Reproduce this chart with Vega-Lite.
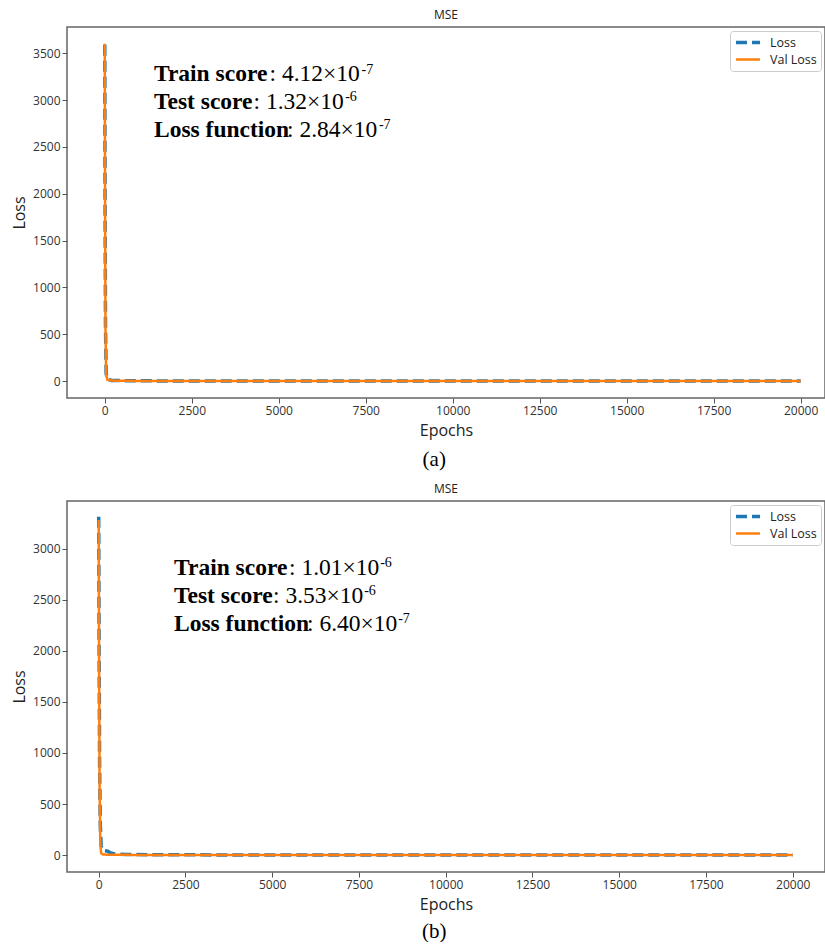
{
  "$schema": "https://vega.github.io/schema/vega-lite/v6.json",
  "padding": {"left": 10, "top": 8, "right": 0, "bottom": 0},
  "background": "white",
  "spacing": 12,
  "resolve": {"scale": {"color": "independent", "strokeDash": "independent", "strokeWidth": "independent"}, "legend": {"color": "independent", "strokeDash": "independent", "strokeWidth": "independent"}},
  "config": {
    "font": "Open Sans",
    "view": {"stroke": "#666", "strokeWidth": 1.5},
    "axis": {"grid": false, "domain": false, "labelFontSize": 12, "labelColor": "#333", "titleFontSize": 16, "titleFontWeight": "normal", "titleColor": "#222", "tickColor": "#555", "tickSize": 5, "labelPadding": 2},
    "legend": {"orient": "top-right", "offset": 4, "strokeColor": "#ccc", "fillColor": "white", "padding": 4, "cornerRadius": 3, "labelFontSize": 12.5, "labelColor": "#222", "symbolType": "stroke", "symbolSize": 576, "clipHeight": 15, "rowPadding": 2, "labelOffset": 8, "title": null},
    "title": {"fontSize": 12, "fontWeight": "normal", "color": "#222", "offset": 5, "anchor": "middle", "frame": "group"}
  },
  "datasets": {
    "lossA": [
      {"epoch": 0, "loss": 3590, "series": "Loss"},
      {"epoch": 8, "loss": 2000, "series": "Loss"},
      {"epoch": 20, "loss": 600, "series": "Loss"},
      {"epoch": 40, "loss": 80, "series": "Loss"},
      {"epoch": 80, "loss": 20, "series": "Loss"},
      {"epoch": 200, "loss": 8, "series": "Loss"},
      {"epoch": 600, "loss": 4, "series": "Loss"},
      {"epoch": 2000, "loss": 2, "series": "Loss"},
      {"epoch": 6000, "loss": 1, "series": "Loss"},
      {"epoch": 12000, "loss": 0.6, "series": "Loss"},
      {"epoch": 20000, "loss": 0.4, "series": "Loss"},
      {"epoch": 0, "loss": 3600, "series": "Val Loss"},
      {"epoch": 8, "loss": 1950, "series": "Val Loss"},
      {"epoch": 20, "loss": 560, "series": "Val Loss"},
      {"epoch": 40, "loss": 60, "series": "Val Loss"},
      {"epoch": 80, "loss": 14, "series": "Val Loss"},
      {"epoch": 200, "loss": 6, "series": "Val Loss"},
      {"epoch": 600, "loss": 3, "series": "Val Loss"},
      {"epoch": 2000, "loss": 1.5, "series": "Val Loss"},
      {"epoch": 6000, "loss": 0.8, "series": "Val Loss"},
      {"epoch": 12000, "loss": 0.5, "series": "Val Loss"},
      {"epoch": 20000, "loss": 0.3, "series": "Val Loss"}
    ],
    "lossB": [
      {"epoch": 0, "loss": 3310, "series": "Loss"},
      {"epoch": 10, "loss": 2200, "series": "Loss"},
      {"epoch": 25, "loss": 900, "series": "Loss"},
      {"epoch": 45, "loss": 300, "series": "Loss"},
      {"epoch": 70, "loss": 90, "series": "Loss"},
      {"epoch": 110, "loss": 50, "series": "Loss"},
      {"epoch": 180, "loss": 42, "series": "Loss"},
      {"epoch": 260, "loss": 38, "series": "Loss"},
      {"epoch": 320, "loss": 25, "series": "Loss"},
      {"epoch": 450, "loss": 12, "series": "Loss"},
      {"epoch": 800, "loss": 6, "series": "Loss"},
      {"epoch": 2000, "loss": 3, "series": "Loss"},
      {"epoch": 6000, "loss": 1.5, "series": "Loss"},
      {"epoch": 12000, "loss": 0.8, "series": "Loss"},
      {"epoch": 20000, "loss": 0.5, "series": "Loss"},
      {"epoch": 0, "loss": 3280, "series": "Val Loss"},
      {"epoch": 10, "loss": 2000, "series": "Val Loss"},
      {"epoch": 25, "loss": 700, "series": "Val Loss"},
      {"epoch": 45, "loss": 120, "series": "Val Loss"},
      {"epoch": 70, "loss": 20, "series": "Val Loss"},
      {"epoch": 110, "loss": 8, "series": "Val Loss"},
      {"epoch": 200, "loss": 5, "series": "Val Loss"},
      {"epoch": 500, "loss": 3, "series": "Val Loss"},
      {"epoch": 2000, "loss": 1.5, "series": "Val Loss"},
      {"epoch": 6000, "loss": 1, "series": "Val Loss"},
      {"epoch": 12000, "loss": 0.6, "series": "Val Loss"},
      {"epoch": 20000, "loss": 0.4, "series": "Val Loss"}
    ],
    "textA": [
      {"part": "label", "epoch": 1414, "loss": 3203, "txt": "Train score"},
      {"part": "value", "epoch": 4734, "loss": 3203, "txt": ": 4.12×10"},
      {"part": "exp", "epoch": 7380, "loss": 3278, "txt": "-7"},
      {"part": "label", "epoch": 1414, "loss": 2905, "txt": "Test score"},
      {"part": "value", "epoch": 4274, "loss": 2905, "txt": ": 1.32×10"},
      {"part": "exp", "epoch": 6910, "loss": 2990, "txt": "-6"},
      {"part": "label", "epoch": 1414, "loss": 2606, "txt": "Loss function"},
      {"part": "value", "epoch": 5237, "loss": 2606, "txt": ": 2.84×10"},
      {"part": "exp", "epoch": 7880, "loss": 2691, "txt": "-7"}
    ],
    "textB": [
      {"part": "label", "epoch": 2170, "loss": 2741, "txt": "Train score"},
      {"part": "value", "epoch": 5484, "loss": 2741, "txt": ": 1.01×10"},
      {"part": "exp", "epoch": 8110, "loss": 2819, "txt": "-6"},
      {"part": "label", "epoch": 2170, "loss": 2467, "txt": "Test score"},
      {"part": "value", "epoch": 5023, "loss": 2467, "txt": ": 3.53×10"},
      {"part": "exp", "epoch": 7650, "loss": 2545, "txt": "-6"},
      {"part": "label", "epoch": 2170, "loss": 2193, "txt": "Loss function"},
      {"part": "value", "epoch": 6003, "loss": 2193, "txt": ": 6.40×10"},
      {"part": "exp", "epoch": 8630, "loss": 2271, "txt": "-7"}
    ]
  },
  "vconcat": [
    {
      "title": {"text": "(a)", "orient": "bottom", "font": "Liberation Serif", "fontSize": 21, "color": "#000", "offset": 10, "frame": "bounds", "anchor": "middle", "dx": 16},
      "resolve": {"scale": {"color": "independent", "strokeDash": "independent", "strokeWidth": "independent"}, "legend": {"color": "independent", "strokeDash": "independent", "strokeWidth": "independent"}},
      "vconcat": [
        {
          "width": 758,
          "height": 371,
          "title": {"text": "MSE"},
          "layer": [
            {
              "data": {"name": "lossA"},
              "mark": {"type": "line", "clip": true},
              "encoding": {
                "x": {"field": "epoch", "type": "quantitative", "scale": {"domain": [-1086, 20700], "nice": false, "zero": false}, "axis": {"title": "Epochs", "values": [0, 2500, 5000, 7500, 10000, 12500, 15000, 17500, 20000], "format": "d", "titlePadding": 6}},
                "y": {"field": "loss", "type": "quantitative", "scale": {"domain": [-180, 3780], "nice": false, "zero": false}, "axis": {"title": "Loss", "values": [0, 500, 1000, 1500, 2000, 2500, 3000, 3500], "format": "d", "titlePadding": 5}},
                "color": {"field": "series", "type": "nominal", "scale": {"domain": ["Loss", "Val Loss"], "range": ["#1f77b4", "#ff7f0e"]}, "legend": {"title": null, "orient": "top-right"}},
                "strokeDash": {"field": "series", "type": "nominal", "scale": {"domain": ["Loss", "Val Loss"], "range": [[11, 5], [1, 0]]}, "legend": {"title": null, "orient": "top-right"}},
                "strokeWidth": {"field": "series", "type": "nominal", "scale": {"domain": ["Loss", "Val Loss"], "range": [3.5, 2.5]}, "legend": {"title": null, "orient": "top-right"}}
              }
            },
            {
              "data": {"name": "textA"},
              "transform": [{"filter": "datum.part === 'label'"}],
              "mark": {"type": "text", "font": "Liberation Serif", "fontWeight": "bold", "fontSize": 23.5, "align": "left", "baseline": "alphabetic", "color": "#000"},
              "encoding": {
                "x": {"field": "epoch", "type": "quantitative", "scale": {"domain": [-1086, 20700], "nice": false, "zero": false}},
                "y": {"field": "loss", "type": "quantitative", "scale": {"domain": [-180, 3780], "nice": false, "zero": false}},
                "text": {"field": "txt"}
              }
            },
            {
              "data": {"name": "textA"},
              "transform": [{"filter": "datum.part === 'value'"}],
              "mark": {"type": "text", "font": "Liberation Serif", "fontWeight": "normal", "fontSize": 23.5, "align": "left", "baseline": "alphabetic", "color": "#000"},
              "encoding": {
                "x": {"field": "epoch", "type": "quantitative", "scale": {"domain": [-1086, 20700], "nice": false, "zero": false}},
                "y": {"field": "loss", "type": "quantitative", "scale": {"domain": [-180, 3780], "nice": false, "zero": false}},
                "text": {"field": "txt"}
              }
            },
            {
              "data": {"name": "textA"},
              "transform": [{"filter": "datum.part === 'exp'"}],
              "mark": {"type": "text", "font": "Liberation Serif", "fontWeight": "normal", "fontSize": 14, "align": "left", "baseline": "alphabetic", "color": "#000"},
              "encoding": {
                "x": {"field": "epoch", "type": "quantitative", "scale": {"domain": [-1086, 20700], "nice": false, "zero": false}},
                "y": {"field": "loss", "type": "quantitative", "scale": {"domain": [-180, 3780], "nice": false, "zero": false}},
                "text": {"field": "txt"}
              }
            }
          ]
        }
      ]
    },
    {
      "title": {"text": "(b)", "orient": "bottom", "font": "Liberation Serif", "fontSize": 21, "color": "#000", "offset": 8, "frame": "bounds", "anchor": "middle", "dx": 16},
      "resolve": {"scale": {"color": "independent", "strokeDash": "independent", "strokeWidth": "independent"}, "legend": {"color": "independent", "strokeDash": "independent", "strokeWidth": "independent"}},
      "vconcat": [
        {
          "width": 758,
          "height": 371,
          "title": {"text": "MSE"},
          "layer": [
            {
              "data": {"name": "lossB"},
              "mark": {"type": "line", "clip": true},
              "encoding": {
                "x": {"field": "epoch", "type": "quantitative", "scale": {"domain": [-914, 20930], "nice": false, "zero": false}, "axis": {"title": "Epochs", "values": [0, 2500, 5000, 7500, 10000, 12500, 15000, 17500, 20000], "format": "d", "titlePadding": 6}},
                "y": {"field": "loss", "type": "quantitative", "scale": {"domain": [-165, 3465], "nice": false, "zero": false}, "axis": {"title": "Loss", "values": [0, 500, 1000, 1500, 2000, 2500, 3000], "format": "d", "titlePadding": 5}},
                "color": {"field": "series", "type": "nominal", "scale": {"domain": ["Loss", "Val Loss"], "range": ["#1f77b4", "#ff7f0e"]}, "legend": {"title": null, "orient": "top-right"}},
                "strokeDash": {"field": "series", "type": "nominal", "scale": {"domain": ["Loss", "Val Loss"], "range": [[11, 5], [1, 0]]}, "legend": {"title": null, "orient": "top-right"}},
                "strokeWidth": {"field": "series", "type": "nominal", "scale": {"domain": ["Loss", "Val Loss"], "range": [3.5, 2.5]}, "legend": {"title": null, "orient": "top-right"}}
              }
            },
            {
              "data": {"name": "textB"},
              "transform": [{"filter": "datum.part === 'label'"}],
              "mark": {"type": "text", "font": "Liberation Serif", "fontWeight": "bold", "fontSize": 23.5, "align": "left", "baseline": "alphabetic", "color": "#000"},
              "encoding": {
                "x": {"field": "epoch", "type": "quantitative", "scale": {"domain": [-914, 20930], "nice": false, "zero": false}},
                "y": {"field": "loss", "type": "quantitative", "scale": {"domain": [-165, 3465], "nice": false, "zero": false}},
                "text": {"field": "txt"}
              }
            },
            {
              "data": {"name": "textB"},
              "transform": [{"filter": "datum.part === 'value'"}],
              "mark": {"type": "text", "font": "Liberation Serif", "fontWeight": "normal", "fontSize": 23.5, "align": "left", "baseline": "alphabetic", "color": "#000"},
              "encoding": {
                "x": {"field": "epoch", "type": "quantitative", "scale": {"domain": [-914, 20930], "nice": false, "zero": false}},
                "y": {"field": "loss", "type": "quantitative", "scale": {"domain": [-165, 3465], "nice": false, "zero": false}},
                "text": {"field": "txt"}
              }
            },
            {
              "data": {"name": "textB"},
              "transform": [{"filter": "datum.part === 'exp'"}],
              "mark": {"type": "text", "font": "Liberation Serif", "fontWeight": "normal", "fontSize": 14, "align": "left", "baseline": "alphabetic", "color": "#000"},
              "encoding": {
                "x": {"field": "epoch", "type": "quantitative", "scale": {"domain": [-914, 20930], "nice": false, "zero": false}},
                "y": {"field": "loss", "type": "quantitative", "scale": {"domain": [-165, 3465], "nice": false, "zero": false}},
                "text": {"field": "txt"}
              }
            }
          ]
        }
      ]
    }
  ]
}
